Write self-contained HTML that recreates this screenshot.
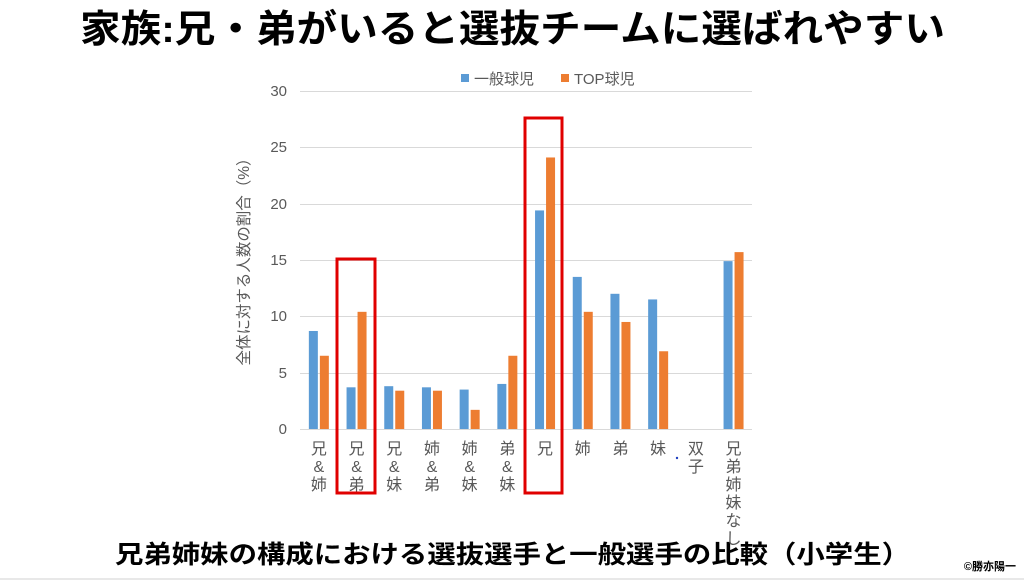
<!DOCTYPE html>
<html><head><meta charset="utf-8"><style>
body{margin:0;background:#fff;}
svg{display:block;font-family:"Liberation Sans","Noto Sans CJK JP",sans-serif;}
</style></head><body>
<svg width="1024" height="581" viewBox="0 0 1024 581" xmlns="http://www.w3.org/2000/svg">
<rect width="1024" height="581" fill="#fff"/>
<text x="80" y="42" font-size="38" font-weight="bold" fill="#000" textLength="865" lengthAdjust="spacingAndGlyphs">家族:兄・弟がいると選抜チームに選ばれやすい</text>
<!-- legend -->
<rect x="461" y="74" width="8" height="8" fill="#5b9bd5"/>
<text x="474" y="84" font-size="15" fill="#595959">一般球児</text>
<rect x="561" y="74" width="8" height="8" fill="#ed7d31"/>
<text x="574" y="84" font-size="15" fill="#595959">TOP球児</text>
<!-- grid -->
<g stroke="#d9d9d9" stroke-width="1">
<line x1="300" y1="91.5" x2="752" y2="91.5"/>
<line x1="300" y1="147.5" x2="752" y2="147.5"/>
<line x1="300" y1="204.5" x2="752" y2="204.5"/>
<line x1="300" y1="260.5" x2="752" y2="260.5"/>
<line x1="300" y1="316.5" x2="752" y2="316.5"/>
<line x1="300" y1="373.5" x2="752" y2="373.5"/>
<line x1="300" y1="429.5" x2="752" y2="429.5"/>
</g>
<g font-size="15" fill="#595959" text-anchor="end">
<text x="287" y="96">30</text><text x="287" y="152">25</text><text x="287" y="209">20</text>
<text x="287" y="265">15</text><text x="287" y="321">10</text><text x="287" y="378">5</text><text x="287" y="434">0</text>
</g>
<text transform="translate(249,258) rotate(-90)" text-anchor="middle" font-size="15.5" fill="#595959" textLength="215" lengthAdjust="spacingAndGlyphs">全体に対する人数の割合（%）</text>
<!-- red boxes -->
<rect x="337" y="259" width="38" height="234" fill="none" stroke="#e00000" stroke-width="3"/>
<rect x="525" y="118" width="37" height="375" fill="none" stroke="#e00000" stroke-width="3"/>
<circle cx="677" cy="458" r="1.2" fill="#1f3fbf"/>
<text x="115" y="563" font-size="25" font-weight="bold" fill="#000" textLength="795" lengthAdjust="spacingAndGlyphs">兄弟姉妹の構成における選抜選手と一般選手の比較（小学生）</text>
<text x="1016" y="570" text-anchor="end" font-size="11" font-weight="bold" fill="#000">©勝亦陽一</text>
<line x1="0" y1="579" x2="1024" y2="579" stroke="#d0d0d0" stroke-width="1"/>
<script>
var d=[[8.7,6.5,"兄&姉"],[3.7,10.4,"兄&弟"],[3.8,3.4,"兄&妹"],[3.7,3.4,"姉&弟"],[3.5,1.7,"姉&妹"],[4.0,6.5,"弟&妹"],[19.4,24.1,"兄"],[13.5,10.4,"姉"],[12.0,9.5,"弟"],[11.5,6.9,"妹"],[0,0,"双子"],[14.9,15.7,"兄弟姉妹なし"]];
var s=document.querySelector("svg"),ns="http://www.w3.org/2000/svg",k=338/30;
d.forEach(function(r,i){var c=300+37.7*(i+0.5);
[[r[0],c-10,"#5b9bd5"],[r[1],c+1,"#ed7d31"]].forEach(function(b){if(!b[0])return;var e=document.createElementNS(ns,"rect");
e.setAttribute("x",b[1]);e.setAttribute("width",9);e.setAttribute("y",429-b[0]*k);e.setAttribute("height",b[0]*k);e.setAttribute("fill",b[2]);s.insertBefore(e,s.querySelector("rect[stroke]"));});
Array.from(r[2]).forEach(function(ch,j){var t=document.createElementNS(ns,"text");t.setAttribute("x",c);t.setAttribute("y",454+j*18);t.setAttribute("text-anchor","middle");t.setAttribute("font-size","16");t.setAttribute("fill","#595959");t.textContent=ch;s.appendChild(t);});});
</script>
</svg>
</body></html>
